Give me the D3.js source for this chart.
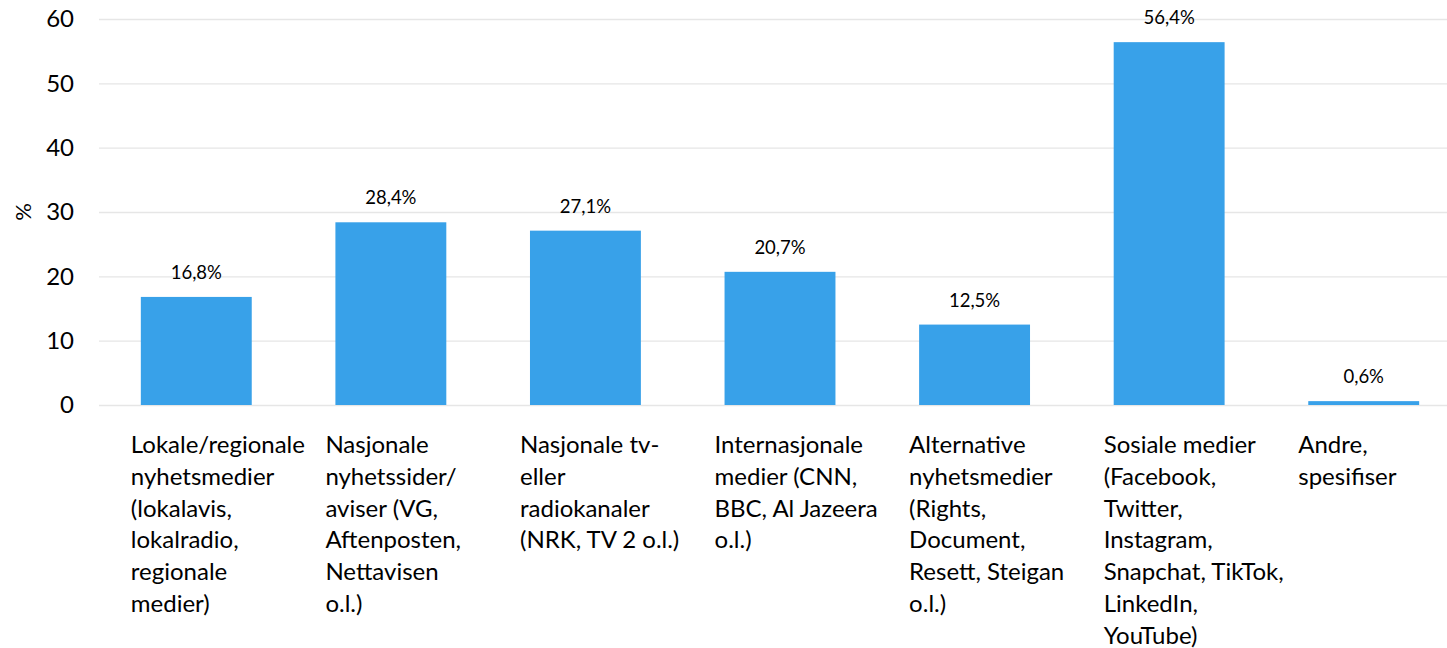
<!DOCTYPE html>
<html>
<head>
<meta charset="utf-8">
<script src="https://cdn.jsdelivr.net/npm/d3@7"></script>
<style>
  body { margin: 0; background: #fff; }
  svg { display: block; font-family: Lato, 'Open Sans', sans-serif; }
</style>
</head>
<body>
<div id="chart"></div>
<script>
// category labels, one entry per wrapped line
const categories = [
  ['Lokale/regionale', 'nyhetsmedier', '(lokalavis,', 'lokalradio,', 'regionale', 'medier)'],
  ['Nasjonale', 'nyhetssider/', 'aviser (VG,', 'Aftenposten,', 'Nettavisen', 'o.l.)'],
  ['Nasjonale tv-', 'eller', 'radiokanaler', '(NRK, TV 2 o.l.)'],
  ['Internasjonale', 'medier (CNN,', 'BBC, Al Jazeera', 'o.l.)'],
  ['Alternative', 'nyhetsmedier', '(Rights,', 'Document,', 'Resett, Steigan', 'o.l.)'],
  ['Sosiale medier', '(Facebook,', 'Twitter,', 'Instagram,', 'Snapchat, TikTok,', 'LinkedIn,', 'YouTube)'],
  ['Andre,', 'spesifiser']
]
const values = [16.8, 28.4, 27.1, 20.7, 12.5, 56.4, 0.6]
const yTicks = [0, 10, 20, 30, 40, 50, 60]
const yLabel = '%'

const width = 1447, height = 648
const barColor = '#38a1e9'
const fmt = v => d3.format('.1f')(v).replace('.', ',') + '%'

let svg = d3.select('#chart').append('svg')
    .attr('width', width)
    .attr('height', height)

const plotLeft = 99

let x = d3.scaleBand()
    .domain(d3.range(values.length))
    .range([plotLeft, 1461])
    .paddingInner(0.43)
    .paddingOuter(0.215)

let y = d3.scaleLinear()
    .domain([0, 60])
    .range([405, 19])

// gridlines + tick labels
let yAxis = svg.append('g')
    .attr('transform', 'translate(' + plotLeft + ',0)')
    .call(d3.axisLeft(y).tickValues(yTicks).tickSize(-(width - plotLeft)).tickPadding(25))
yAxis.select('.domain').remove()
yAxis.selectAll('.tick line').attr('stroke', '#e6e6e6').attr('stroke-width', 1.3)
yAxis.selectAll('.tick text')
    .attr('fill', '#000')
    .style('font-size', '24px')
    .style('font-family', 'Lato, sans-serif')

svg.append('text')
    .attr('transform', 'translate(31,' + y(30) + ') rotate(-90)')
    .attr('text-anchor', 'middle')
    .style('font-size', '22px')
    .text(yLabel)

// bars
svg.append('g').selectAll('rect')
    .data(values)
    .enter().append('rect')
    .attr('x', (d, i) => x(i))
    .attr('y', d => y(d))
    .attr('width', x.bandwidth())
    .attr('height', d => y(0) - y(d))
    .attr('fill', barColor)

// value labels
svg.append('g').selectAll('text')
    .data(values)
    .enter().append('text')
    .attr('x', (d, i) => x(i) + x.bandwidth() / 2)
    .attr('y', d => y(d) - 18)
    .attr('text-anchor', 'middle')
    .style('font-size', '18.5px')
    .text(d => fmt(d))

// category labels: left-aligned lines, starting just left of the bar
let labels = svg.append('g').selectAll('text')
    .data(categories)
    .enter().append('text')
    .style('font-size', '24px')
    .attr('fill', '#000')

labels.each(function(lines, i) {
  let t = d3.select(this)
  lines.forEach((line, j) => {
    t.append('tspan')
        .attr('x', x(i) - 10)
        .attr('y', 453 + j * 31.8)
        .text(line)
  })
})
</script>
</body>
</html>
